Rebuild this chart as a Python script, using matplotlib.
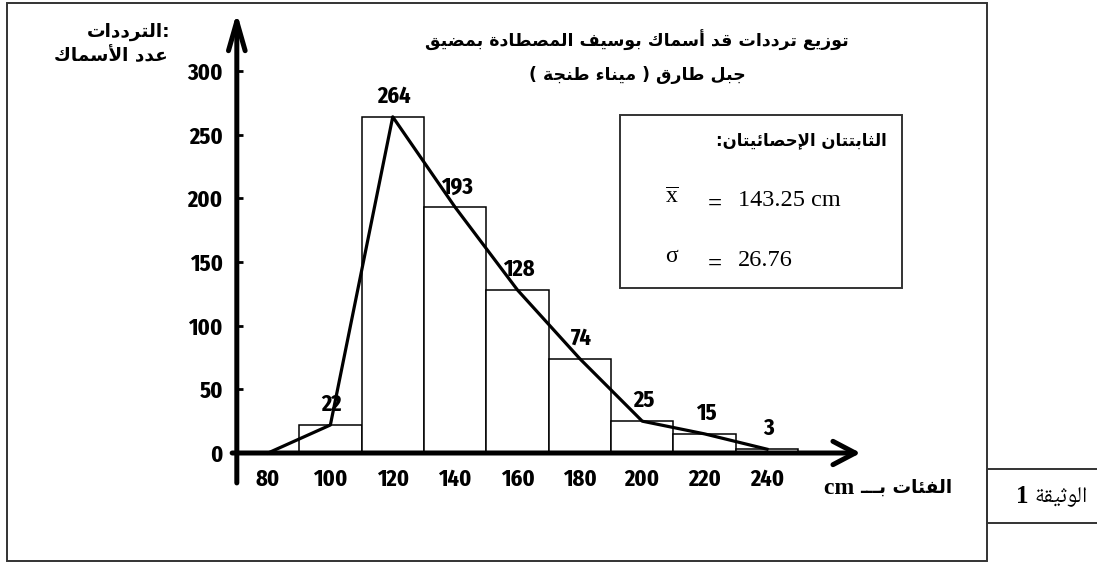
import matplotlib
matplotlib.use("Agg")
import matplotlib.pyplot as plt
from matplotlib.patches import Rectangle
from matplotlib.font_manager import FontProperties

# Data
class_centres = [100, 120, 140, 160, 180, 200, 220, 240]
counts = [22, 264, 193, 128, 74, 25, 15, 3]
class_width = 20
polygon_start = (80, 0)
x_ticks = [80, 100, 120, 140, 160, 180, 200, 220, 240]
y_ticks = [0, 50, 100, 150, 200, 250, 300]

title_lines = ["توزيع ترددات قد أسماك بوسيف المصطادة بمضيق", "جبل طارق ( ميناء طنجة )"]
ylabel_lines = ["الترددات", "عدد الأسماك"]
xlabel_ar = "الفئات بـــ"
stats_title = "الثابتتان الإحصائيتان:"
mean_text = "143.25 cm"
sigma_text = "26.76"
doc_label = "الوثيقة"


# --- minimal Arabic shaping (presentation forms + right-to-left order) ---
_letters = "ءآأؤإئابةتثجحخدذرزسشصضطظعغفقكلمنهوىي"
_right_only = set("آأؤإاةدذرزوى")
FORMS = {}
_code = 0xFE80
for ch in _letters:
    n = 1 if ch == "ء" else 2 if ch in _right_only else 4
    FORMS[ch] = tuple(range(_code, _code + n))
    _code += n
LAM_ALEF = {"آ": 0xFEF5, "أ": 0xFEF7, "إ": 0xFEF9, "ا": 0xFEFB}


def _kind(tok):
    if len(tok) == 2:
        return "R"
    if tok == "ـ":
        return "D"
    f = FORMS.get(tok)
    if f is None or len(f) == 1:
        return "U"
    return "D" if len(f) == 4 else "R"


def shape(text):
    toks = []
    i = 0
    while i < len(text):
        if text[i] == "ل" and i + 1 < len(text) and text[i + 1] in LAM_ALEF:
            toks.append(text[i:i + 2])
            i += 2
        else:
            toks.append(text[i])
            i += 1
    out = []
    for j, t in enumerate(toks):
        k = _kind(t)
        before = j > 0 and _kind(toks[j - 1]) == "D" and k != "U"
        after = j + 1 < len(toks) and k == "D" and _kind(toks[j + 1]) != "U"
        if len(t) == 2:
            out.append(chr(LAM_ALEF[t[1]] + int(before)))
        elif k == "U" or t == "ـ":
            out.append(t)
        else:
            f = FORMS[t]
            g = f[3] if before and after else f[1] if before else f[2] if after else f[0]
            out.append(chr(g))
    return "".join(reversed(out)).translate(str.maketrans("()", ")("))


W, H = 1097, 562
fig = plt.figure(figsize=(W / 100, H / 100), dpi=100)

# overlay in pixel coordinates for frames and free text
ov = fig.add_axes([0, 0, 1, 1])
ov.set_xlim(0, W)
ov.set_ylim(H, 0)
ov.set_axis_off()

# data axes placed so that the data map onto the reference pixels
x_lo, x_hi, y_lo, y_hi = 60, 275, -30, 350
px_x = 499 / 160
px_y = 382 / 300
left_px = 268 - (80 - x_lo) * px_x
right_px = 268 + (x_hi - 80) * px_x
top_px = 453 - y_hi * px_y
bot_px = 453 - y_lo * px_y
ax = fig.add_axes([left_px / W, 1 - bot_px / H, (right_px - left_px) / W, (bot_px - top_px) / H])
ax.set_xlim(x_lo, x_hi)
ax.set_ylim(y_lo, y_hi)
ax.patch.set_alpha(0)

num_font = FontProperties(family="Fira Sans Extra Condensed", weight="bold", size=17.5)
ar_font = dict(family="DejaVu Sans", weight="bold")
ar_serif = ["Noto Naskh Arabic", "DejaVu Sans"]

ax.bar(class_centres, counts, width=class_width, color="white", edgecolor="black", linewidth=1.1, zorder=2)
ax.plot([polygon_start[0]] + class_centres, [polygon_start[1]] + counts, color="black", lw=2.3, zorder=3)

for xc, c in zip(class_centres, counts):
    ax.annotate(str(c), (xc, c), xytext=(1, 6.5), textcoords="offset points",
                ha="center", va="bottom", fontproperties=num_font, zorder=4)

# axes with arrows
for s in ax.spines.values():
    s.set_visible(False)
ax.spines["left"].set_position(("data", 70))
ax.spines["bottom"].set_position(("data", 0))
ax.annotate("", xy=(70, 346), xytext=(70, -23.5),
            arrowprops=dict(arrowstyle="->,head_length=1.05,head_width=0.3", lw=3.6, color="black",
                            mutation_scale=20, shrinkA=0, shrinkB=0), zorder=5)
ax.annotate("", xy=(270, 0), xytext=(68.5, 0),
            arrowprops=dict(arrowstyle="->,head_length=0.8,head_width=0.42", lw=3.6, color="black",
                            mutation_scale=20, shrinkA=0, shrinkB=0), zorder=5)

ax.set_xticks(x_ticks, labels=[str(v) for v in x_ticks], fontproperties=num_font)
ax.set_yticks(y_ticks, labels=[str(v) for v in y_ticks], fontproperties=num_font)
ax.tick_params(axis="x", length=0, pad=11)
ax.tick_params(axis="y", direction="in", length=4, width=2, pad=10)

# frames
ov.add_patch(Rectangle((7, 3), 980, 558, fill=False, lw=1.4, ec="#333333"))
ov.add_patch(Rectangle((987, 469), 130, 54, fill=False, lw=1.4, ec="#333333"))
ov.add_patch(Rectangle((620, 115), 282, 173, fill=False, lw=1.4, ec="#333333"))

# texts
ov.text(170, 32, shape(ylabel_lines[0]) + ":", ha="right", va="center", fontsize=13.3, **ar_font)
ov.text(168, 56, shape(ylabel_lines[1]), ha="right", va="center", fontsize=13.3, **ar_font)
ov.text(637, 40, shape(title_lines[0]), ha="center", va="center", fontsize=12.5, **ar_font)
ov.text(637, 75, shape(title_lines[1]), ha="center", va="center", fontsize=12.5, **ar_font)
ov.text(887, 140, shape(stats_title), ha="right", va="center", fontsize=12, **ar_font)

serif = "Liberation Serif"
plt.rcParams["mathtext.fontset"] = "custom"
plt.rcParams["mathtext.rm"] = serif
ov.text(672, 198, r"$\overline{\mathrm{x}}$", ha="center", va="center", fontsize=17, family=serif)
ov.text(672, 257, "σ", ha="center", va="center", fontsize=17, family=serif)
for yy in (204, 264):
    ov.text(715, yy, "=", ha="center", va="center", fontsize=18, family=serif, weight="bold")
ov.text(738, 200, mean_text, ha="left", va="center", fontsize=17.5, family=serif)
ov.text(738, 260, sigma_text, ha="left", va="center", fontsize=17.5, family=serif)

xl = ov.text(952, 488, shape(xlabel_ar), ha="right", va="center", fontsize=13.3, **ar_font)
ov.annotate("cm ", xy=(0, 0.5), xycoords=xl, ha="right", va="center",
            fontsize=17, family=serif, weight="bold")

dl = ov.text(1088, 495, shape(doc_label), ha="right", va="center", fontsize=16, family=ar_serif)
ov.annotate("1 ", xy=(0, 0.45), xycoords=dl, ha="right", va="center",
            fontsize=18, family=serif, weight="bold")

fig.savefig("out.png", dpi=100)
